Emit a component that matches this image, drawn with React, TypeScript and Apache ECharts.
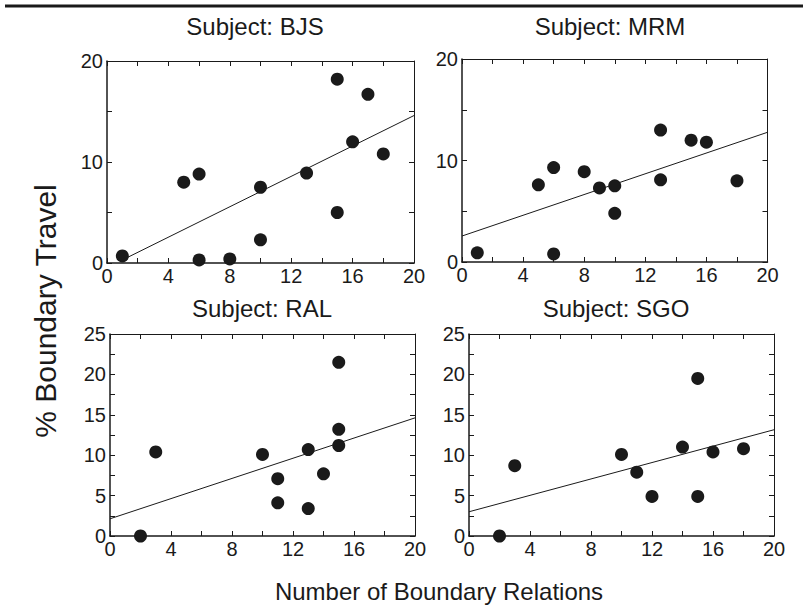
import React, { useEffect, useRef } from "react";
import * as echarts from "echarts";

// ---- data ----
const subjects = ["BJS", "MRM", "RAL", "SGO"];

const bjsX = [1, 5, 6, 6, 8, 10, 10, 13, 15, 15, 16, 17, 18];
const bjsY = [0.7, 8.0, 8.8, 0.3, 0.4, 7.5, 2.3, 8.9, 18.2, 5.0, 12.0, 16.7, 10.8];

const mrmX = [1, 5, 6, 6, 8, 9, 10, 10, 13, 13, 15, 16, 18];
const mrmY = [0.9, 7.6, 9.3, 0.8, 8.9, 7.3, 7.5, 4.8, 13.0, 8.1, 12.0, 11.8, 8.0];

const ralX = [2, 3, 10, 11, 11, 13, 13, 14, 15, 15, 15];
const ralY = [0, 10.4, 10.1, 7.1, 4.1, 10.7, 3.4, 7.7, 21.5, 13.2, 11.2];

const sgoX = [2, 3, 10, 11, 12, 14, 15, 15, 16, 18];
const sgoY = [0, 8.7, 10.1, 7.9, 4.9, 11.0, 19.5, 4.9, 10.4, 10.8];

// fitted regression lines (end points)
const bjsFitX = [1, 20];
const bjsFitY = [0.3, 14.6];
const mrmFitX = [0, 20];
const mrmFitY = [2.56, 12.78];
const ralFitX = [0, 20];
const ralFitY = [2.13, 14.62];
const sgoFitX = [0, 20];
const sgoFitY = [3.0, 13.15];

const yMaxes = [20, 20, 25, 25];
const yTickSteps = [5, 5, 2.5, 2.5];
const yLabelSteps = [10, 10, 5, 5];
const xMax = 20;
const xTickStep = 2;
const xLabelStep = 4;

const xTitle = "Number of Boundary Relations";
const yTitle = "% Boundary Travel";

const FONT = "'Liberation Sans', Arial, Helvetica, sans-serif";
const INK = "#1a1a1a";

function zip(xs: number[], ys: number[]) {
  return xs.map((x, i) => [x, ys[i]]);
}

export default function App() {
  const ref = useRef<HTMLDivElement>(null);

  useEffect(() => {
    if (!ref.current) return;
    const chart = echarts.init(ref.current, undefined, { renderer: "svg" });

    const grids = [
      { left: 107, top: 61, width: 307, height: 202 },
      { left: 462, top: 59, width: 305.5, height: 203 },
      { left: 110, top: 334, width: 305, height: 202 },
      { left: 469, top: 334, width: 305, height: 202 },
    ];
    const titleCenters = [
      [255, 26],
      [610, 26],
      [262, 308.5],
      [616, 308.5],
    ];
    const pts = [zip(bjsX, bjsY), zip(mrmX, mrmY), zip(ralX, ralY), zip(sgoX, sgoY)];
    const fits = [
      zip(bjsFitX, bjsFitY),
      zip(mrmFitX, mrmFitY),
      zip(ralFitX, ralFitY),
      zip(sgoFitX, sgoFitY),
    ];

    const xAxis: any[] = [];
    const yAxis: any[] = [];
    const series: any[] = [];

    grids.forEach((_, i) => {
      const base = {
        gridIndex: i,
        type: "value",
        splitLine: { show: false },
        axisTick: { show: true, inside: true, length: 5, lineStyle: { color: INK, width: 1 } },
      };
      xAxis.push({
        ...base,
        position: "bottom",
        min: 0,
        max: xMax,
        interval: xTickStep,
        axisLine: { show: true, onZero: false, lineStyle: { color: INK, width: 1.5 } },
        axisLabel: {
          show: true,
          margin: 3,
          fontSize: 20,
          fontFamily: FONT,
          color: INK,
          showMinLabel: true,
          showMaxLabel: true,
          formatter: (v: number) => (Math.abs(v % xLabelStep) < 1e-9 ? String(v) : ""),
        },
      });
      xAxis.push({
        ...base,
        position: "top",
        min: 0,
        max: xMax,
        interval: xTickStep,
        axisLine: { show: true, onZero: false, lineStyle: { color: INK, width: 1 } },
        axisLabel: { show: false },
      });
      yAxis.push({
        ...base,
        position: "left",
        min: 0,
        max: yMaxes[i],
        interval: yTickSteps[i],
        axisLine: { show: true, onZero: false, lineStyle: { color: INK, width: 1.5 } },
        axisLabel: {
          show: true,
          margin: 4,
          fontSize: 20,
          fontFamily: FONT,
          color: INK,
          showMinLabel: true,
          showMaxLabel: true,
          formatter: (v: number) => (Math.abs(v % yLabelSteps[i]) < 1e-9 ? String(v) : ""),
        },
      });
      yAxis.push({
        ...base,
        position: "right",
        min: 0,
        max: yMaxes[i],
        interval: yTickSteps[i],
        axisLine: { show: true, onZero: false, lineStyle: { color: INK, width: 1 } },
        axisLabel: { show: false },
      });

      series.push({
        type: "line",
        name: subjects[i] + " fit",
        xAxisIndex: 2 * i,
        yAxisIndex: 2 * i,
        data: fits[i],
        symbol: "none",
        lineStyle: { color: INK, width: 1 },
        z: 2,
        silent: true,
      });
      series.push({
        type: "scatter",
        name: subjects[i],
        xAxisIndex: 2 * i,
        yAxisIndex: 2 * i,
        data: pts[i],
        symbol: "circle",
        symbolSize: 13,
        itemStyle: { color: INK, opacity: 1 },
        z: 3,
        clip: false,
      });
    });

    const graphic: any[] = [
      {
        type: "rect",
        shape: { x: 5, y: 4.5, width: 798, height: 3 },
        style: { fill: INK },
      },
      ...subjects.map((s, i) => ({
        type: "text",
        x: titleCenters[i][0],
        y: titleCenters[i][1],
        style: {
          text: "Subject: " + s,
          font: `24px ${FONT}`,
          fill: INK,
          textAlign: "center",
          textVerticalAlign: "middle",
        },
      })),
      {
        type: "text",
        x: 439,
        y: 591,
        style: {
          text: xTitle,
          font: `24px ${FONT}`,
          fill: INK,
          textAlign: "center",
          textVerticalAlign: "middle",
        },
      },
      {
        type: "text",
        x: 45,
        y: 311,
        rotation: Math.PI / 2,
        style: {
          text: yTitle,
          font: `30px ${FONT}`,
          fill: INK,
          textAlign: "center",
          textVerticalAlign: "middle",
        },
      },
    ];

    chart.setOption({
      animation: false,
      backgroundColor: "#ffffff",
      grid: grids.map((g) => ({ ...g, containLabel: false })),
      xAxis,
      yAxis,
      series,
      graphic,
    });

    return () => chart.dispose();
  }, []);

  return (
    <div
      ref={ref}
      style={{ position: "fixed", left: 0, top: 0, width: 803, height: 609 }}
    />
  );
}
